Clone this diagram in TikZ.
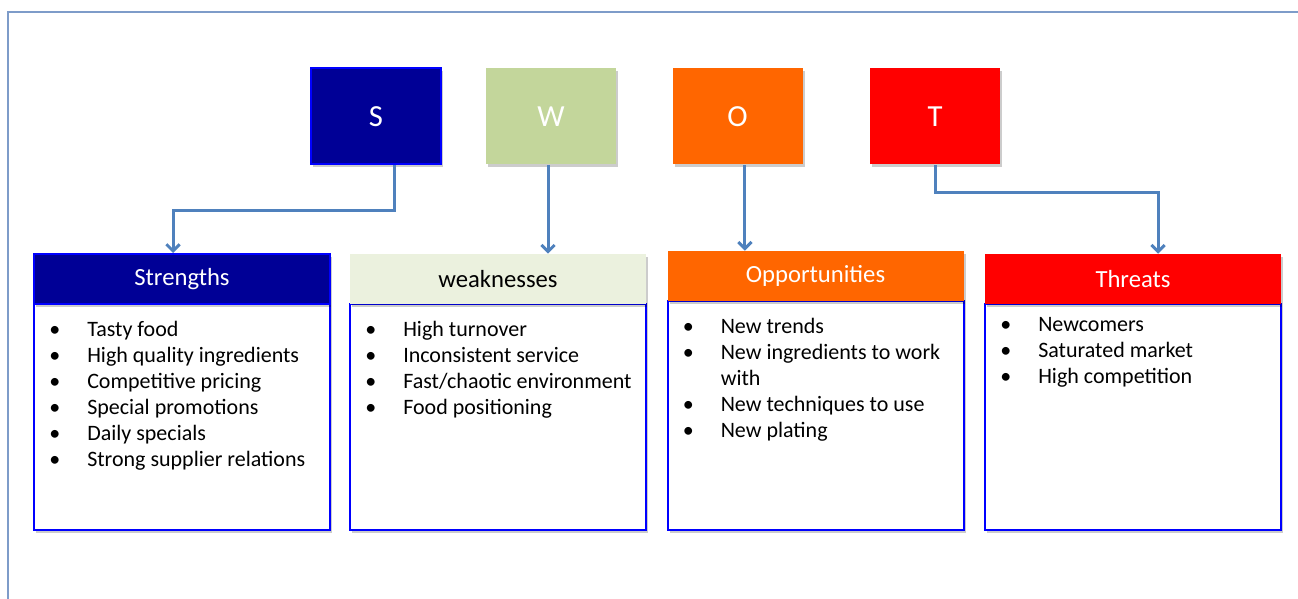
\documentclass[tikz,border=0pt]{standalone}
\usepackage{fontspec}
\setmainfont{Carlito}
\usetikzlibrary{arrows.meta, positioning, shadows}
\definecolor{navyfill}{HTML}{000096}
\definecolor{boxblue}{HTML}{0000FF}
\definecolor{wgreen}{HTML}{C3D69B}
\definecolor{wpale}{HTML}{EBF1DE}
\definecolor{oorange}{HTML}{FF6600}
\definecolor{tred}{HTML}{FF0000}
\definecolor{linkblue}{HTML}{4F81BD}
\definecolor{framegray}{HTML}{7E9CC9}
\newcommand{\itm}[1]{\makebox[28.5pt][l]{\textbullet}#1}

\begin{document}
\begin{tikzpicture}[
        x=0.75pt, y=-0.75pt,
        every node/.style={font=\fontsize{18.5}{22}\selectfont},
        boxshadow/.style={drop shadow={shadow xshift=1.5pt, shadow yshift=-2pt, opacity=0.2, fill=black}},
        letterbox/.style={boxshadow, minimum width=97.5pt, minimum height=72pt, inner sep=0pt, text=white, font=\fontsize{23}{26}\selectfont},
        headbox/.style={boxshadow, minimum width=222pt, minimum height=37.5pt, inner sep=0pt, text=white},
        bodybox/.style={boxshadow, draw=boxblue, line width=1.5pt, fill=white, minimum width=222pt, minimum height=169.5pt, inner sep=0pt},
        itemlist/.style={anchor=north west, inner sep=0pt, font=\fontsize{16.5}{19.5}\selectfont, align=left},
        link/.style={draw=linkblue, line width=2.25pt, -{Straight Barb[length=5pt, width=10pt]}}
        ]
        \useasboundingbox (0,0) rectangle (1298,599);
        \clip (0,0) rectangle (1298,599);
        \draw[framegray, line width=1.2pt] (8,12) rectangle (1330,630);

        % letter boxes
        \node[letterbox, fill=navyfill, draw=boxblue, line width=1.5pt] (S) at (376,116.5) {S};
        \node[letterbox, fill=wgreen] (W) at (551,116.5) {W};
        \node[letterbox, fill=oorange] (O) at (737.5,116.5) {O};
        \node[letterbox, fill=tred] (T) at (935,116.5) {T};

        % body boxes
        \node[bodybox] (Sb) at (182,417) {};
        \node[bodybox] (Wb) at (498,417) {};
        \node[bodybox, minimum height=171.75pt] (Ob) at (815.5,415.5) {};
        \node[bodybox] (Tb) at (1133,417) {};

        % headers
        \node[headbox, fill=navyfill, draw=boxblue, line width=1.5pt] (Sh) at (182,279) {Strengths};
        \node[headbox, fill=wpale, text=black] (Wh) at (498,279) {weaknesses};
        \node[headbox, fill=oorange] (Oh) at (815.5,276) {Opportunities};
        \node[headbox, fill=tred] (Th) at (1133,279) {Threats};

        % lists
        \node[itemlist] (Sl) at ([xshift=12pt, yshift=-11pt]Sb.north west) {\begin{tabular}{@{}l@{}}
            \itm{Tasty food}\\ \itm{High quality ingredients}\\ \itm{Competitive pricing}\\
            \itm{Special promotions}\\ \itm{Daily specials}\\ \itm{Strong supplier relations}
            \end{tabular}};
        \node[itemlist] (Wl) at ([xshift=12pt, yshift=-11pt]Wb.north west) {\begin{tabular}{@{}l@{}}
            \itm{High turnover}\\ \itm{Inconsistent service}\\ \itm{Fast/chaotic environment}\\
            \itm{Food positioning}
            \end{tabular}};
        \node[itemlist] (Ol) at ([xshift=12pt, yshift=-11pt]Ob.north west) {\begin{tabular}{@{}l@{}}
            \itm{New trends}\\ \itm{New ingredients to work}\\ \hspace*{28.5pt}with\\
            \itm{New techniques to use}\\ \itm{New plating}
            \end{tabular}};
        \node[itemlist] (Tl) at ([xshift=12pt, yshift=-7.5pt]Tb.north west) {\begin{tabular}{@{}l@{}}
            \itm{Newcomers}\\ \itm{Saturated market}\\ \itm{High competition}
            \end{tabular}};

        % connectors
        \coordinate (Wfoot) at ([xshift=-2.25pt]W.south);
        \coordinate (Ofoot) at ([xshift=5.6pt]O.south);
        \draw[link] ([xshift=13.5pt]S.south) -- ++(0,45) -| ([xshift=-6.75pt]Sh.north);
        \draw[link] (Wfoot) -- (Wfoot |- Wh.north);
        \draw[link] (Ofoot) -- (Ofoot |- Oh.north);
        \draw[link] (T.south) -- ++(0,28) -| ([xshift=18.75pt]Th.north);
\end{tikzpicture}
\end{document}
